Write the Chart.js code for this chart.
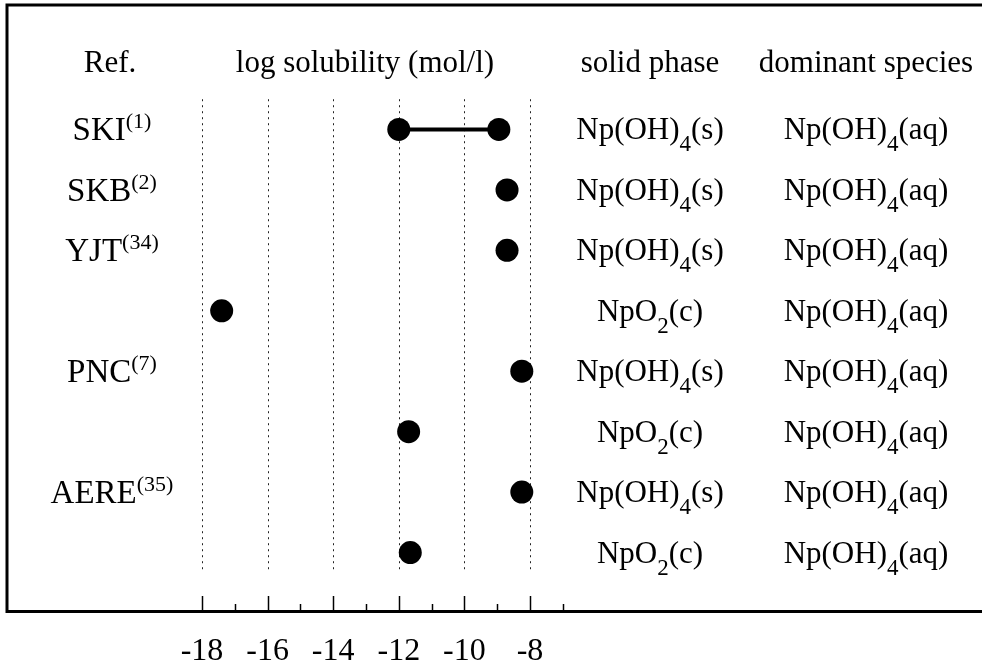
<!DOCTYPE html>
<html>
<head>
<meta charset="utf-8">
<script src="https://cdn.jsdelivr.net/npm/chart.js@4.4.0/dist/chart.umd.js"></script>
<style>html,body{margin:0;background:#fff;}canvas{display:block;}</style>
</head>
<body>
<canvas id="sol" width="982" height="667"></canvas>
<script>
const SERIF = '"Liberation Serif", "Times New Roman", serif';

// one row per literature value, top to bottom
const refNames = ['SKI', 'SKB', 'YJT', '', 'PNC', '', 'AERE', ''];
const refNotes = ['(1)', '(2)', '(34)', '', '(7)', '', '(35)', ''];
const solLow = [-12.0, -8.7, -8.7, -17.4, -8.25, -11.7, -8.25, -11.65];
const solHigh = [-8.95, null, null, null, null, null, null, null];
const solidPhase = ['Np(OH)_4(s)', 'Np(OH)_4(s)', 'Np(OH)_4(s)', 'NpO_2(c)', 'Np(OH)_4(s)', 'NpO_2(c)', 'Np(OH)_4(s)', 'NpO_2(c)'];
const domSpecies = ['Np(OH)_4(aq)', 'Np(OH)_4(aq)', 'Np(OH)_4(aq)', 'Np(OH)_4(aq)', 'Np(OH)_4(aq)', 'Np(OH)_4(aq)', 'Np(OH)_4(aq)', 'Np(OH)_4(aq)'];
const headers = ['Ref.', 'log solubility (mol/l)', 'solid phase', 'dominant species'];
const majorTicks = [-18, -16, -14, -12, -10, -8];
const minorTicks = [-17, -15, -13, -11, -9, -7];

const colX = { ref: 110, sol: 365, solid: 650, dom: 866 };

// 'Np(OH)_4(s)' -> normal / subscript pieces
function chem(s) {
    return s.split(/(_\d+)/).filter(Boolean).map((p) => p[0] === '_' ? { t: p.slice(1), sub: true } : { t: p });
}

function drawRich(ctx, parts, cx, base, size = 31) {
    const fontOf = (p) => `${p.sub ? 23 : p.sup ? Math.round(size * 0.68) : size}px ${SERIF}`;
    const widths = parts.map((p) => { ctx.font = fontOf(p); return ctx.measureText(p.t).width; });
    let x = cx - widths.reduce((a, b) => a + b, 0) / 2;
    parts.forEach((p, i) => {
        ctx.font = fontOf(p);
        ctx.fillText(p.t, x, base + (p.sub ? 12 : p.sup ? -12 : 0));
        x += widths[i];
    });
}

const tablePlugin = {
    id: 'table',
    beforeDatasetsDraw(chart) {
        const { ctx, chartArea: a, scales: { x, y } } = chart;
        ctx.save();
        ctx.strokeStyle = '#000';
        ctx.lineCap = 'butt';

        // frame: top, left and the axis line
        ctx.lineWidth = 3;
        ctx.beginPath();
        ctx.moveTo(982, 5); ctx.lineTo(7, 5); ctx.lineTo(7, a.bottom - 1.5); ctx.lineTo(982, a.bottom - 1.5);
        ctx.stroke();

        // dotted guides at the labelled values
        ctx.lineWidth = 1;
        ctx.strokeStyle = '#222';
        ctx.setLineDash([2, 4]);
        majorTicks.forEach((v) => {
            const px = Math.round(x.getPixelForValue(v)) + 0.5;
            ctx.beginPath(); ctx.moveTo(px, y.getPixelForValue(0.5)); ctx.lineTo(px, y.getPixelForValue(8.3)); ctx.stroke();
        });
        ctx.setLineDash([]);
        ctx.strokeStyle = '#000';

        // inward tick marks
        ctx.lineWidth = 1.5;
        [...majorTicks.map((v) => [v, 15]), ...minorTicks.map((v) => [v, 7])].forEach(([v, len]) => {
            const px = Math.round(x.getPixelForValue(v)) + 0.5;
            ctx.beginPath(); ctx.moveTo(px, a.bottom - 2); ctx.lineTo(px, a.bottom - 2 - len); ctx.stroke();
        });

        // header + text columns
        ctx.fillStyle = '#000';
        ctx.textBaseline = 'alphabetic';
        const hb = y.getPixelForValue(0) + 3;
        [colX.ref, colX.sol, colX.solid, colX.dom].forEach((cx, i) => drawRich(ctx, [{ t: headers[i] }], cx, hb));
        refNames.forEach((name, i) => {
            const base = y.getPixelForValue(i + 1) + 10;
            if (name) drawRich(ctx, [{ t: name }, { t: refNotes[i], sup: true }], colX.ref + 2, base + 1, 33);
            drawRich(ctx, chem(solidPhase[i]), colX.solid, base);
            drawRich(ctx, chem(domSpecies[i]), colX.dom, base);
        });
        ctx.restore();
    }
};

const datasets = solLow.map((lo, i) => ({
    data: solHigh[i] == null ? [{ x: lo, y: i + 1 }] : [{ x: lo, y: i + 1 }, { x: solHigh[i], y: i + 1 }],
    showLine: true,
    borderColor: '#000',
    borderWidth: 4,
    backgroundColor: '#000',
    pointRadius: 11.5,
    pointBorderWidth: 0,
    clip: false,
}));

new Chart(document.getElementById('sol'), {
    type: 'scatter',
    data: { datasets },
    options: {
        responsive: false,
        animation: false,
        devicePixelRatio: 1,
        layout: { padding: { left: 202, right: 452, top: 69, bottom: -24 } },
        plugins: { legend: { display: false }, tooltip: { enabled: false } },
        scales: {
            x: {
                type: 'linear', min: -18, max: -8,
                grid: { display: false, drawTicks: false },
                border: { display: false },
                ticks: {
                    stepSize: 2, autoSkip: false, maxRotation: 0, padding: 23, color: '#000',
                    font: { family: SERIF, size: 32, lineHeight: 1 },
                    callback: (v) => majorTicks.includes(v) ? String(v) : '',
                },
            },
            y: { type: 'linear', min: 0, max: 9, reverse: true, display: false },
        },
    },
    plugins: [tablePlugin],
});
</script>
</body>
</html>
